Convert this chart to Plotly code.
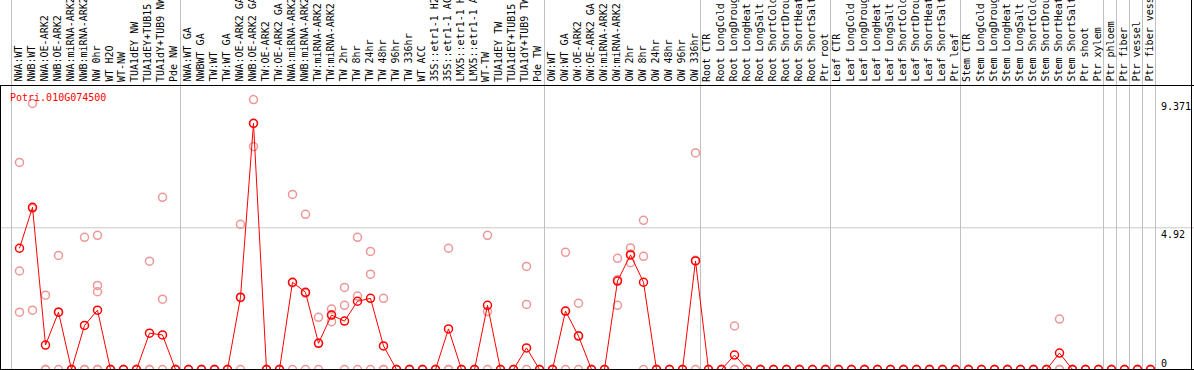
import plotly.graph_objects as go

title = "Potri.010G074500"

labels = [
    "NWA:WT", "NWB:WT", "NWA:OE-ARK2", "NWB:OE-ARK2", "NWA:miRNA-ARK2", "NWB:miRNA-ARK2",
    "NW 0hr", "WT H2O", "WT-NW", "TUA1dEY NW", "TUA1dEY+TUB15 NW", "TUA1dY+TUB9 NW", "Pde NW",
    "NWA:WT GA", "NWBWT GA", "TW:WT", "TW:WT GA", "NWA:OE-ARK2 GA", "NWB:OE-ARK2 GA",
    "TW:OE-ARK2", "TW:OE-ARK2 GA", "NWA:miRNA-ARK2", "NWB:miRNA-ARK2", "TW:miRNA-ARK2",
    "TW:miRNA-ARK2", "TW 2hr", "TW 8hr", "TW 24hr", "TW 48hr", "TW 96hr", "TW 336hr",
    "WT ACC", "35S::etr1-1 H2O", "35S::etr1-1 ACC", "LMX5::etr1-1 H2O", "LMX5::etr1-1 ACC",
    "WT-TW", "TUA1dEY TW", "TUA1dEY+TUB15 TW", "TUA1dY+TUB9 TW", "Pde TW",
    "OW:WT", "OW:WT GA", "OW:OE-ARK2", "OW:OE-ARK2 GA", "OW:miRNA-ARK2", "OW:miRNA-ARK2",
    "OW 2hr", "OW 8hr", "OW 24hr", "OW 48hr", "OW 96hr", "OW 336hr",
    "Root CTR", "Root LongCold", "Root LongDrought", "Root LongHeat", "Root LongSalt",
    "Root ShortCold", "Root ShortDrought", "Root ShortHeat", "Root ShortSalt", "Ptr root",
    "Leaf CTR", "Leaf LongCold", "Leaf LongDrought", "Leaf LongHeat", "Leaf LongSalt",
    "Leaf ShortCold", "Leaf ShortDrought", "Leaf ShortHeat", "Leaf ShortSalt", "Ptr leaf",
    "Stem CTR", "Stem LongCold", "Stem LongDrought", "Stem LongHeat", "Stem LongSalt",
    "Stem ShortCold", "Stem ShortDrought", "Stem ShortHeat", "Stem ShortSalt", "Ptr shoot",
    "Ptr xylem", "Ptr phloem", "Ptr fiber", "Ptr vessel", "Ptr fiber vessel",
]

means = [
    4.21, 5.63, 0.85, 1.99, 0, 1.53, 2.06, 0, 0, 0, 1.26, 1.20, 0,
    0, 0, 0, 0, 2.51, 8.55, 0, 0, 3.03, 2.68, 0.91, 1.89, 1.68, 2.37, 2.47, 0.82,
    0, 0, 0, 0, 1.41, 0, 0, 2.23, 0, 0, 0.75, 0,
    0, 2.03, 1.16, 0, 0, 3.07, 3.98, 3.03, 0, 0, 0, 3.77,
    0, 0, 0.50, 0, 0, 0, 0, 0, 0, 0,
    0, 0, 0, 0, 0, 0, 0, 0, 0, 0,
    0, 0, 0, 0, 0, 0, 0, 0.57, 0, 0, 0,
    0, 0, 0, 0,
]

Z = [0, 0, 0]
replicates = [
    [7.19, 3.42, 1.99], [9.24, 5.59, 2.06], [2.58, 0, 0], [3.96, 2.00, 0], Z,
    [4.59, 0, 0], [4.66, 2.92, 2.70, 0, 0], Z, Z, Z, [3.76, 0, 0], [5.98, 2.44, 0], Z,
    Z, Z, Z, Z, [5.04, 2.49, 0], [9.371, 8.54, 7.74], Z, Z, [6.08, 3.01, 0],
    [5.39, 2.65, 0], [1.81, 0.92, 0], [2.10, 1.90, 1.66], [2.85, 2.23, 0],
    [4.59, 2.55, 0], [4.10, 3.31, 0], [2.47, 0, 0], Z, Z, Z, Z, [4.21, 0, 0], Z, Z,
    [4.66, 2.01, 0], Z, Z, [3.58, 2.26, 0], Z,
    Z, [4.07, 2.02, 0], [2.30, 1.18, 0], Z, Z, [3.86, 3.12, 2.23], [4.22, 4.01, 3.71],
    [5.18, 3.93, 0], Z, Z, Z, [7.52, 3.79, 0],
    Z, Z, [1.51, 0, 0], Z, Z, Z, Z, Z, Z, Z,
    Z, Z, Z, Z, Z, Z, Z, Z, Z, Z,
    Z, Z, Z, Z, Z, Z, Z, [1.75, 0, 0], Z, Z, Z,
    Z, Z, Z, Z,
]

group_starts = [0, 13, 41, 53, 63, 73, 84, 85, 86, 87, 88]
ytick_values = [9.371, 4.92, 0]
ytick_text = ["9.371", "4.92", "0"]

# ---- layout geometry (pixels) ----
W, H = 1194, 370
X0 = 19.5      # pixel of first column
DX = 13.0      # column spacing
TOP = 85       # top of plot area
ZERO_PX = 369.5
SCALE = 28.8   # px per unit
FONT = "DejaVu Sans Mono"

def py(px):
    return (H - px) / H

def pxx(px):
    return px / W

xr = [-X0 / DX, -X0 / DX + W / DX]
ymin = -(H - ZERO_PX) / SCALE
ymax = ymin + (H - TOP) / SCALE

rx, ry = [], []
for i, reps in enumerate(replicates):
    for v in reps:
        rx.append(i)
        ry.append(v)

fig = go.Figure()
fig.add_trace(go.Scatter(
    x=rx, y=ry, mode="markers", hoverinfo="skip",
    marker=dict(symbol="circle-open", size=8, color="rgb(238,150,150)", line=dict(width=1.5)),
    cliponaxis=False,
))
fig.add_trace(go.Scatter(
    x=list(range(len(means))), y=means, mode="lines+markers",
    line=dict(color="#ff0000", width=1),
    marker=dict(symbol="circle-open", size=8, color="#ff0000", line=dict(width=1.5)),
    cliponaxis=False,
))

shapes = []
shapes.append(dict(type="line", xref="paper", yref="y", x0=0, x1=1, y0=4.92, y1=4.92,
                   line=dict(color="#c8c8c8", width=1), layer="below"))
for b in group_starts:
    xp = 11.5 + DX * b
    shapes.append(dict(type="line", xref="paper", yref="paper", x0=pxx(xp), x1=pxx(xp),
                       y0=0, y1=1, line=dict(color="#c0c0c0", width=1), layer="below"))
blk = dict(color="black", width=1)
shapes.append(dict(type="line", xref="paper", yref="paper", x0=0, x1=1,
                   y0=py(TOP + 0.5), y1=py(TOP + 0.5), line=blk, layer="above"))
shapes.append(dict(type="line", xref="paper", yref="paper", x0=0, x1=1,
                   y0=py(369.5), y1=py(369.5), line=blk, layer="above"))
shapes.append(dict(type="line", xref="paper", yref="paper", x0=pxx(0.5), x1=pxx(0.5),
                   y0=0, y1=py(TOP), line=blk, layer="above"))
shapes.append(dict(type="line", xref="paper", yref="paper", x0=pxx(1191.5), x1=pxx(1191.5),
                   y0=0, y1=1, line=blk, layer="above"))

annotations = []
for i, lab in enumerate(labels):
    annotations.append(dict(
        x=i, xref="x", y=py(83), yref="paper", text=lab, textangle=-90,
        xanchor="center", yanchor="bottom", showarrow=False, xshift=-2,
        font=dict(family=FONT, size=10, color="black"), borderpad=0,
    ))
annotations.append(dict(
    x=pxx(9), xref="paper", y=py(97), yref="paper", text=title, xanchor="left",
    yanchor="middle", showarrow=False, font=dict(family=FONT, size=10, color="red"), borderpad=0,
))
for v, t in zip(ytick_values, ytick_text):
    annotations.append(dict(
        x=pxx(1160), xref="paper", y=v, yref="y", text=t, xanchor="left",
        yanchor="bottom" if v == 0 else "top", showarrow=False,
        font=dict(family=FONT, size=10, color="black"), borderpad=0,
    ))

fig.update_layout(
    width=W, height=H, autosize=False,
    margin=dict(l=0, r=0, t=0, b=0, pad=0),
    paper_bgcolor="white", plot_bgcolor="white",
    showlegend=False,
    xaxis=dict(range=xr, visible=False, fixedrange=True),
    yaxis=dict(range=[ymin, ymax], domain=[0, (H - TOP) / H], visible=False, fixedrange=True),
    shapes=shapes, annotations=annotations,
)

fig.write_html(
    "out.html",
    config={"displayModeBar": False},
    post_script="document.body.style.margin='0';document.body.style.overflow='hidden';",
)
